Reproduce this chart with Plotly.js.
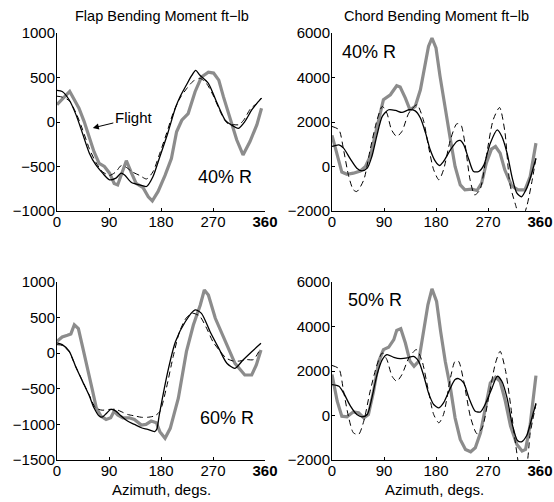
<!DOCTYPE html>
<html><head><meta charset="utf-8">
<script src="https://cdn.plot.ly/plotly-3.0.1.min.js"></script>
<style>html,body{margin:0;padding:0;background:#fff}#chart{width:554px;height:502px}</style>
</head><body><div id="chart"></div>
<script>
// ---- tick labels ----
const azTickVals = [0, 90, 180, 270, 360];
const azTickText = ['0', '90', '180', '270', '<b>360</b>'];
const flapTicksTop = [-1000, -500, 0, 500, 1000];
const flapTicksBottom = [-1500, -1000, -500, 0, 500, 1000];
const chordTicks = [-2000, 0, 2000, 4000, 6000];

// ---- Flap 40% R ----
const flap40_flight_x = [0,9,22,30,38,47,56,64,73,82,91,99,105,114,120,129,137,149,158,165,175,187,198,207,216,227,239,250,262,271,280,288,299,311,322,334,346,354];
const flap40_flight_y = [195,257,343,250,155,5,-165,-333,-465,-500,-575,-690,-707,-540,-435,-575,-690,-737,-840,-887,-780,-600,-410,-110,20,95,340,505,560,550,470,285,40,-200,-370,-220,-30,155];
const flap40_solid_x = [0,9,21,33,44,56,67,79,91,102,111,117,129,143,155,166,178,192,205,213,224,233,240,247,262,276,291,302,314,325,337,346,354];
const flap40_solid_y = [355,343,250,80,-125,-350,-480,-575,-650,-630,-575,-595,-680,-707,-725,-615,-390,-120,160,284,416,520,580,528,435,228,22,-34,-71,3,135,210,268];
const flap40_dash_x = [0,9,21,33,44,56,67,79,91,102,111,120,130,143,155,166,178,190,201,213,225,236,248,259,271,283,294,306,315,323,335,346,354];
const flap40_dash_y = [290,280,240,100,-80,-300,-450,-560,-600,-560,-490,-510,-560,-600,-640,-560,-350,-120,100,270,380,460,490,430,290,110,-10,-30,-30,20,150,210,270];

// ---- Chord 40% R ----
const chord40_flight_x = [0,9,17,26,37,49,58,66,78,89,101,112,118,127,135,144,153,161,167,173,180,187,196,205,213,222,230,242,251,259,267,276,283,291,299,311,322,334,343,353];
const chord40_flight_y = [1400,450,-250,-350,-300,-200,0,450,1800,3000,3225,3630,3570,3075,2550,2700,3450,4650,5400,5775,5325,4050,2550,1200,0,-825,-1050,-1020,-1080,-750,150,780,900,600,-150,-870,-1050,-1050,-450,1050];
const chord40_solid_x = [0,12,20,32,43,52,61,69,78,87,98,110,121,133,144,153,162,170,179,186,193,205,216,222,228,237,245,254,263,274,286,294,303,312,320,328,337,344,353];
const chord40_solid_y = [900,975,825,330,-75,-195,-75,450,1425,2250,2550,2520,2430,2550,2500,2180,1500,750,225,45,225,750,1125,1170,975,300,-225,-225,75,1050,1650,1350,600,-525,-1200,-1360,-980,-450,370];
const chord40_dash_x = [0,12,20,29,37,43,55,66,78,87,95,103,112,121,133,147,158,167,176,185,193,205,216,223,230,239,247,256,267,279,290,299,308,318,327,337,346,353];
const chord40_dash_y = [1800,1650,750,-450,-1050,-1125,-600,750,2100,2700,2400,1650,1350,1575,2400,2775,2100,900,-150,-600,-150,1200,1920,1875,1050,-600,-1275,-1050,450,2100,2650,1600,-800,-1750,-2500,-1800,-680,380];

// ---- Flap 60% R ----
const flap60_flight_x = [0,9,18,24,30,37,44,53,61,68,76,85,93,99,105,114,125,134,146,154,163,172,178,187,196,210,224,236,248,255,262,274,291,308,325,337,345,353];
const flap60_flight_y = [168,229,252,271,400,346,98,-205,-509,-766,-883,-930,-907,-813,-869,-907,-907,-930,-1009,-1000,-953,-977,-1102,-1195,-1055,-633,21,396,677,888,817,490,162,-142,-306,-306,-166,45];
const flap60_solid_x = [0,9,21,32,44,56,64,73,78,85,93,102,111,122,134,146,157,169,173,177,193,205,222,239,250,265,280,294,308,322,337,353];
const flap60_solid_y = [145,120,28,-182,-392,-600,-766,-883,-897,-850,-790,-813,-883,-953,-1000,-1047,-1070,-1100,-1060,-868,-212,162,442,607,560,302,69,-142,-212,-95,21,139];
const flap60_dash_x = [0,9,21,32,44,56,67,78,90,102,111,122,134,146,157,169,178,189,201,212,224,235,247,259,270,282,293,305,316,328,340,351];
const flap60_dash_y = [120,110,20,-180,-390,-590,-770,-800,-790,-790,-820,-860,-880,-900,-900,-880,-820,-500,-50,300,500,560,520,350,160,30,-70,-110,-110,-90,-90,50];

// ---- Chord 50% R ----
const chord50_flight_x = [0,9,17,26,37,46,55,63,72,81,89,98,107,112,119,127,135,142,150,159,166,173,181,188,196,205,213,222,231,240,248,257,265,274,283,291,300,309,320,329,335,343,353];
const chord50_flight_y = [1838,643,-30,-60,164,120,-105,45,1090,2436,2960,3064,3408,3826,3901,3259,2436,2212,2436,3781,4978,5695,5127,3781,2436,1240,-105,-1076,-1525,-1629,-1450,-777,344,1465,1719,1539,643,-478,-1300,-1600,-1525,-404,1790];
const chord50_solid_x = [0,12,20,32,43,52,61,69,78,87,95,107,118,130,141,150,159,167,176,185,193,205,213,219,228,237,248,257,265,277,286,294,303,312,321,328,337,344,353];
const chord50_solid_y = [1390,1315,1016,418,45,-60,45,792,1838,2511,2735,2616,2556,2586,2660,2436,1763,1016,493,344,568,1240,1614,1659,1465,792,194,164,493,1240,1763,1539,792,-404,-1120,-1180,-900,-300,550];
const chord50_dash_x = [0,12,20,29,37,46,55,66,78,87,95,104,112,121,133,146,156,167,176,185,193,205,213,219,228,240,251,260,271,283,291,300,309,317,327,336,343,353];
const chord50_dash_y = [2250,2100,1090,-105,-777,-852,-254,1090,2286,2810,2511,1763,1539,1838,2586,2960,2436,1090,45,-329,45,1689,2436,2436,1539,-105,-822,-553,792,2361,2885,2062,493,-1151,-2500,-2300,-800,500];

// ---- styles ----
const GRAY = '#8c8c8c';
const FONT = 'Liberation Sans, Arial, Helvetica, sans-serif';

function trio(fx, fy, sx, sy, dx, dy, xa, ya) {
  return [
    {x: fx, y: fy, xaxis: xa, yaxis: ya, type: 'scatter', mode: 'lines',
     line: {color: GRAY, width: 3.2}, hoverinfo: 'skip'},
    {x: dx, y: dy, xaxis: xa, yaxis: ya, type: 'scatter', mode: 'lines',
     line: {color: '#000', width: 1, dash: '6px,4px', shape: 'spline', smoothing: 0.7}, hoverinfo: 'skip'},
    {x: sx, y: sy, xaxis: xa, yaxis: ya, type: 'scatter', mode: 'lines',
     line: {color: '#000', width: 1.3, shape: 'spline', smoothing: 0.7}, hoverinfo: 'skip'}
  ];
}

const data = [].concat(
  trio(flap40_flight_x, flap40_flight_y, flap40_solid_x, flap40_solid_y, flap40_dash_x, flap40_dash_y, 'x', 'y'),
  trio(chord40_flight_x, chord40_flight_y, chord40_solid_x, chord40_solid_y, chord40_dash_x, chord40_dash_y, 'x2', 'y2'),
  trio(flap60_flight_x, flap60_flight_y, flap60_solid_x, flap60_solid_y, flap60_dash_x, flap60_dash_y, 'x3', 'y3'),
  trio(chord50_flight_x, chord50_flight_y, chord50_solid_x, chord50_solid_y, chord50_dash_x, chord50_dash_y, 'x4', 'y4')
);

function xAxis(dom, anchor) {
  return {domain: dom, anchor: anchor, range: [0, 360], tickmode: 'array',
    tickvals: azTickVals, ticktext: azTickText, ticks: 'inside', ticklen: 3,
    tickcolor: '#000', showline: true, linecolor: '#000', linewidth: 1,
    showgrid: false, zeroline: false, mirror: false, fixedrange: true,
    ticklabelstandoff: -3,
    tickfont: {family: FONT, size: 15, color: '#000'}};
}
function yAxis(dom, anchor, range, ticks) {
  return {domain: dom, anchor: anchor, range: range, tickmode: 'array',
    tickvals: ticks, ticks: 'inside', ticklen: 3, tickcolor: '#000',
    showline: true, linecolor: '#000', linewidth: 1, showgrid: false,
    zeroline: false, mirror: false, fixedrange: true,
    ticklabelstandoff: -2,
    tickfont: {family: FONT, size: 15, color: '#000'}};
}

const xL = [57/554, 265/554], xR = [332/554, 540/554];
const yT = [(502-211)/502, (502-33)/502], yB = [(502-460)/502, (502-282)/502];

function label(t, x, y, xr, yr, size) {
  return {text: t, x: x, y: y, xref: xr, yref: yr, showarrow: false,
    xanchor: 'center', yanchor: 'middle', font: {family: FONT, size: size, color: '#000'}};
}

const layout = {
  width: 554, height: 502, margin: {l: 0, r: 0, t: 0, b: 0},
  paper_bgcolor: '#fff', plot_bgcolor: '#fff', showlegend: false,
  font: {family: FONT, color: '#000'},
  xaxis: xAxis(xL, 'y'), yaxis: yAxis(yT, 'x', [-1000, 1000], flapTicksTop),
  xaxis2: xAxis(xR, 'y2'), yaxis2: yAxis(yT, 'x2', [-2000, 6000], chordTicks),
  xaxis3: xAxis(xL, 'y3'), yaxis3: yAxis(yB, 'x3', [-1500, 1000], flapTicksBottom),
  xaxis4: xAxis(xR, 'y4'), yaxis4: yAxis(yB, 'x4', [-2000, 6000], chordTicks),
  annotations: [
    label('Flap Bending Moment ft\u2212lb', 162/554, 1 - 16/502, 'paper', 'paper', 14.5),
    label('Chord Bending Moment ft\u2212lb', 436/554, 1 - 16/502, 'paper', 'paper', 14.5),
    label('Azimuth, degs.', 161/554, 1 - 489/502, 'paper', 'paper', 15),
    label('Azimuth, degs.', 435/554, 1 - 489/502, 'paper', 'paper', 15),
    label('40% R', 291, -618, 'x', 'y', 18),
    label('40% R', 64, 5146, 'x2', 'y2', 18),
    label('60% R', 294, -910, 'x3', 'y3', 18),
    label('50% R', 74, 5191, 'x4', 'y4', 18),
    {text: 'Flight', x: 62, y: -67, xref: 'x', yref: 'y', showarrow: true,
     ax: 41, ay: -10, arrowhead: 2, arrowsize: 1.2, arrowwidth: 1, arrowcolor: '#000',
     font: {family: FONT, size: 15, color: '#000'}}
  ]
};

Plotly.newPlot('chart', data, layout, {displayModeBar: false, staticPlot: true});
</script>
</body></html>
